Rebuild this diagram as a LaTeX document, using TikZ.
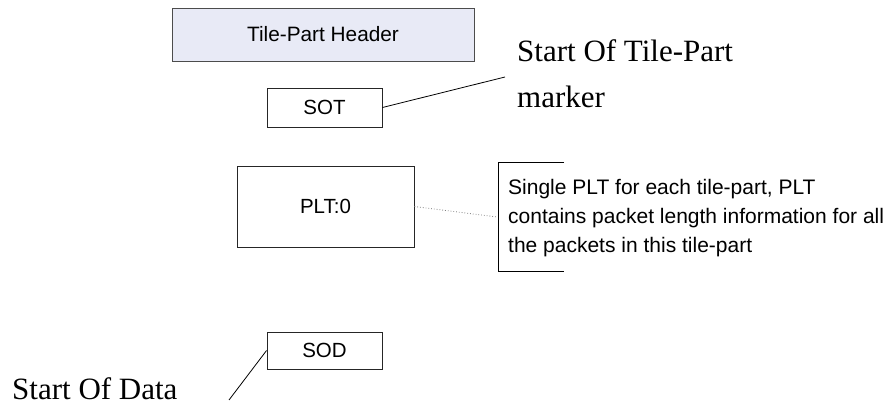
\documentclass[tikz,border=0pt]{standalone}
\usepackage{fontspec}
\setmainfont{Liberation Serif}
\setsansfont{Liberation Sans}
\begin{document}
\begin{tikzpicture}[x=1pt,y=-1pt,
  box/.style={draw=black!85, line width=0.9pt, inner sep=0pt, font=\sffamily\fontsize{20.5}{22}\selectfont},
  lead/.style={draw=black, line width=0.8pt},
  serifnote/.style={inner sep=0pt, anchor=base west, font=\rmfamily\fontsize{31}{36}\selectfont},
]
\useasboundingbox (0,0) rectangle (890,419);
\definecolor{hdrfill}{RGB}{232,234,246}
\node[box, fill=hdrfill, draw=black!70, minimum width=302pt, minimum height=53pt, font=\sffamily\fontsize{20.8}{22}\selectfont] (tph) at (323,34.5) {Tile-Part Header};
\node[box, minimum width=115pt, minimum height=39pt] (sot) at (324.5,107.5) {SOT};
\node[box, minimum width=177pt, minimum height=81pt] (plt) at (325.5,206.5) {PLT:0};
\node[box, minimum width=115pt, minimum height=37pt] (sod) at (324.5,350.5) {SOD};

\node[serifnote] (sotlab1) at (517,62) {Start Of Tile-Part};
\node[serifnote] (sotlab2) at (517,108) {marker};
\coordinate (sotend) at (505,77);
\draw[lead] (sot.east) -- (sotend);

\node[serifnote] (sodlab) at (12,399) {Start Of Data};
\coordinate (sodend) at (229,400);
\draw[lead] (sod.west) -- (sodend);

\coordinate (brt) at (564,162);
\coordinate (brtl) at (498,162);
\coordinate (brbl) at (498,271);
\coordinate (brb) at (564,271);
\coordinate (brmid) at (497,217);
\draw[lead] (brt) -- (brtl) -- (brbl) -- (brb);
\draw[gray, dotted, line width=0.8pt] (plt.east) -- (brmid);
\node[inner sep=0pt, anchor=base west, align=left, font=\sffamily\fontsize{21}{29}\selectfont] (pltnote) at (508,253)
  {Single PLT for each tile-part, PLT\\contains packet length information for all\\the packets in this tile-part};
\end{tikzpicture}
\end{document}
